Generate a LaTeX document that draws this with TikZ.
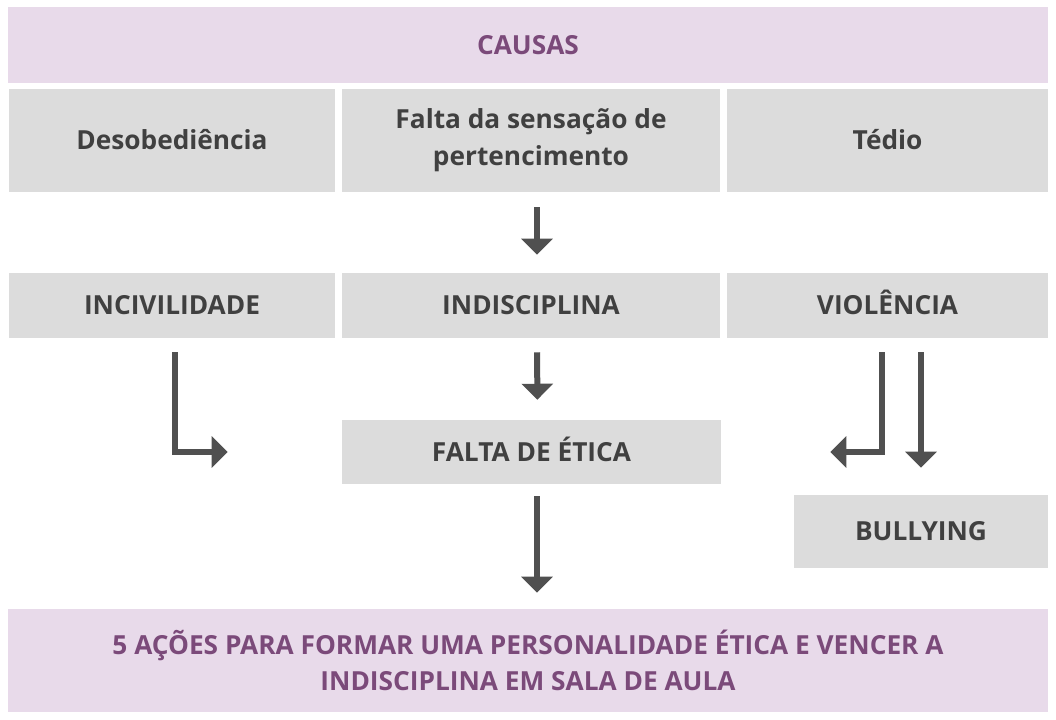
\documentclass[tikz,border=0pt]{standalone}
\usepackage{fontspec}
\setmainfont{Open Sans}
\usetikzlibrary{arrows.meta}

\definecolor{lilas}{HTML}{E8DAEA}
\definecolor{roxo}{HTML}{7B4A7A}
\definecolor{cinza}{HTML}{DCDCDC}
\definecolor{texto}{HTML}{404040}
\definecolor{corseta}{HTML}{505050}

\begin{document}
\begin{tikzpicture}[x=0.75pt,y=-0.75pt,
    every node/.style={font=\bfseries\fontsize{19.7}{27.5}\selectfont,align=center,inner sep=0pt},
    faixa/.style={fill=lilas,text=roxo,minimum width=780pt,minimum height=77.25pt},
    bloco/.style={fill=cinza,text=texto},
    caixa/.style={bloco,text height=14pt,text depth=0pt,minimum height=48.75pt},
    seta/.style={draw=corseta,line width=4.5pt,-{Triangle[width=23pt,length=12pt]}}]

  \useasboundingbox (0,0) rectangle (1056,720);

  % causas
  \node[faixa,minimum height=57pt,text height=14pt,text depth=0pt] (causas) at (528,45) {CAUSAS};
  \node[caixa,minimum width=244.5pt,minimum height=77.25pt]  (deso)   at (172,140.5)   {Desobediência};
  \node[bloco,minimum width=283.5pt,minimum height=77.25pt]  (falta)  at (531,140.5)   {Falta da sensação de\\pertencimento};
  \node[caixa,minimum width=240.75pt,minimum height=77.25pt] (tedio)  at (887.5,140.5) {Tédio};

  % consequencias
  \node[caixa,minimum width=244.5pt]  (incivil)   at (172,305.5)   {INCIVILIDADE};
  \node[caixa,minimum width=283.5pt]  (indisc)    at (531,305.5)   {INDISCIPLINA};
  \node[caixa,minimum width=240.75pt] (violencia) at (887.5,305.5) {VIOLÊNCIA};
  \node[caixa,minimum width=284.25pt,minimum height=48pt]  (etica)    at (531.5,452) {FALTA DE ÉTICA};
  \node[caixa,minimum width=190.5pt,minimum height=54.75pt] (bullying) at (921,531.5) {BULLYING};

  \node[faixa] (acoes) at (528,660.5)
    {5 AÇÕES PARA FORMAR UMA PERSONALIDADE ÉTICA E VENCER A\\INDISCIPLINA EM SALA DE AULA};

  \path ([xshift=4.5pt]falta.south)     edge[seta,shorten <=11.25pt,shorten >=13.5pt] ([xshift=4.5pt]indisc.north)
        ([xshift=4.5pt]indisc.south)    edge[seta,shorten <=10.5pt,shorten >=15pt]    ([xshift=4.5pt]etica.north)
        ([xshift=4.125pt]etica.south)   edge[seta,shorten <=9pt,shorten >=12pt]       ([xshift=4.125pt]etica.south |- acoes.north)
        (bullying.north |- violencia.south) edge[seta,shorten <=10.5pt,shorten >=20.25pt] (bullying.north);

  \draw[seta,shorten <=10.5pt,shorten >=85.5pt]  ([xshift=2.25pt]incivil.south)    |- (etica.west);
  \draw[seta,shorten <=10.5pt,shorten >=81.75pt] ([xshift=-4.125pt]violencia.south) |- (etica.east);
\end{tikzpicture}
\end{document}
